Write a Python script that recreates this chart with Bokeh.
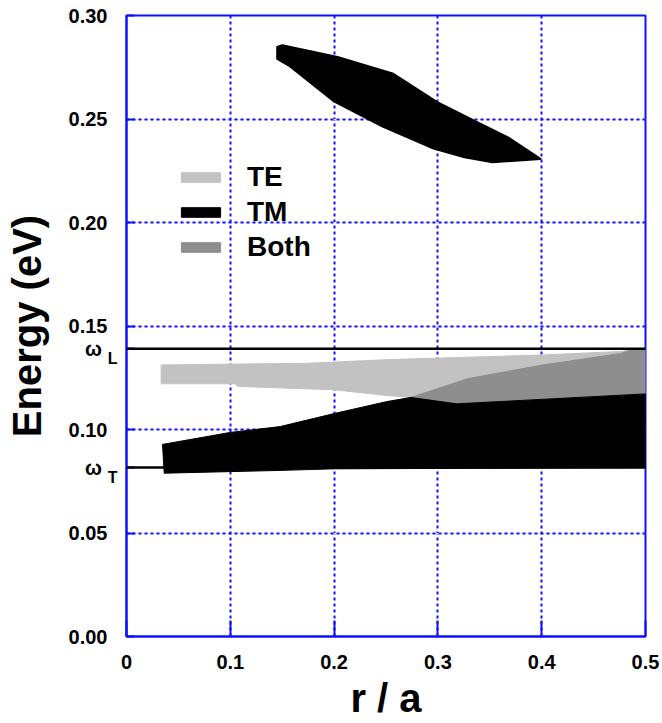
from bokeh.plotting import figure
from bokeh.models import FixedTicker, Legend, LegendItem, LinearAxis, Grid, Range1d
from bokeh.embed import file_html
from bokeh.resources import INLINE

# ---- data ----
omega_L = 0.1390
omega_T = 0.0816

te_r = [0.0334, 0.174, 0.254, 0.400, 0.476, 0.490, 0.476, 0.399, 0.329, 0.274, 0.251, 0.200, 0.107, 0.105, 0.0334]
te_e = [0.1312, 0.1320, 0.1338, 0.1360, 0.1377, 0.1390, 0.1367, 0.1310, 0.1246, 0.1155, 0.1164, 0.1192, 0.1208, 0.1221, 0.1221]

both_r = [0.274, 0.329, 0.399, 0.476, 0.490, 0.500, 0.500, 0.318]
both_e = [0.1155, 0.1246, 0.1310, 0.1367, 0.1390, 0.1390, 0.1172, 0.1124]

tm_low_r = [0.0347, 0.100, 0.148, 0.200, 0.251, 0.274, 0.318, 0.500, 0.500, 0.200, 0.145, 0.0363]
tm_low_e = [0.0928, 0.0986, 0.1014, 0.1077, 0.1135, 0.1155, 0.1124, 0.1172, 0.0816, 0.0810, 0.0802, 0.0789]

tm_high_r = [0.1452, 0.1501, 0.2033, 0.2563, 0.2994, 0.3359, 0.3690, 0.3988, 0.3526, 0.3256, 0.2958, 0.2463, 0.1999, 0.1567, 0.1452]
tm_high_e = [0.2848, 0.2856, 0.2800, 0.2720, 0.2582, 0.2490, 0.2407, 0.2307, 0.2291, 0.2315, 0.2357, 0.2465, 0.2585, 0.2757, 0.2790]

x_ticks = [0, 0.1, 0.2, 0.3, 0.4, 0.5]
x_tick_labels = ["0", "0.1", "0.2", "0.3", "0.4", "0.5"]
y_ticks = [0, 0.05, 0.10, 0.15, 0.20, 0.25, 0.30]
y_tick_labels = ["0.00", "0.05", "0.10", "0.15", "0.20", "0.25", "0.30"]
omega_ticks = [omega_L, omega_T]
omega_symbol = "ω"
omega_subscripts = ["L", "T"]

TE_COLOR = "#c2c2c2"
TM_COLOR = "#000000"
BOTH_COLOR = "#8e8e8e"
BLUE = "#1010ff"
FONT = "Liberation Sans"
NBSP = "\u00a0"

p = figure(width=660, height=716, frame_width=519, frame_height=621,
           min_border_left=126, min_border_right=15, min_border_top=15, min_border_bottom=80,
           x_range=Range1d(0, 0.5), y_range=Range1d(0, 0.30), y_axis_location=None,
           output_backend="svg", toolbar_location=None)
p.background_fill_color = "white"
p.border_fill_color = "white"
p.outline_line_color = BLUE
p.outline_line_width = 2

# bands
r_te = p.patch(te_r, te_e, fill_color=TE_COLOR, line_color=TE_COLOR, line_width=1)
r_both = p.patch(both_r, both_e, fill_color=BOTH_COLOR, line_color=BOTH_COLOR, line_width=1)
r_tm = p.patch(tm_low_r, tm_low_e, fill_color=TM_COLOR, line_color=TM_COLOR, line_width=1)
p.patch(tm_high_r, tm_high_e, fill_color=TM_COLOR, line_color=TM_COLOR, line_width=2, line_join="round")

# omega lines (drawn above the axis ticks)
for w in omega_ticks:
    p.line([0, 0.5], [w, w], line_color="black", line_width=2.5, level="overlay")

def style_axis(ax, size="20px"):
    ax.major_label_text_font = FONT
    ax.major_label_text_font_style = "bold"
    ax.major_label_text_font_size = size
    ax.major_label_text_color = "black"
    ax.axis_label_text_font = FONT
    ax.axis_label_text_font_style = "bold"
    ax.axis_label_text_font_size = "40px"
    ax.axis_label_text_color = "black"
    ax.minor_tick_line_color = None
    ax.major_tick_out = 0

# x axis
p.xaxis.ticker = FixedTicker(ticks=x_ticks)
p.xaxis.major_label_overrides = dict(zip(x_ticks, x_tick_labels))
style_axis(p.xaxis)
p.xaxis.axis_line_color = BLUE
p.xaxis.axis_line_width = 2
p.xaxis.major_tick_line_color = BLUE
p.xaxis.major_tick_line_width = 2
p.xaxis.major_tick_in = 16
p.xaxis.major_label_standoff = 18
p.xaxis.axis_label = "r / a"
p.xaxis.axis_label_standoff = 4

# inner left axis: frame line, inner ticks and the omega subscripts
sub_overrides = {t: "" for t in y_ticks}
for w, s in zip(omega_ticks, omega_subscripts):
    sub_overrides[w] = NBSP + "\n" + s
sub_axis = LinearAxis(ticker=FixedTicker(ticks=y_ticks + omega_ticks),
                      major_label_overrides=sub_overrides)
style_axis(sub_axis, "16px")
sub_axis.axis_line_color = BLUE
sub_axis.axis_line_width = 2
sub_axis.major_tick_line_color = BLUE
sub_axis.major_tick_line_width = 2
sub_axis.major_tick_in = 8
sub_axis.major_label_standoff = 9
p.add_layout(sub_axis, "left")

# outer left axis: numeric labels, omega symbols and the axis title
main_overrides = dict(zip(y_ticks, y_tick_labels))
for w in omega_ticks:
    main_overrides[w] = omega_symbol + NBSP
main_axis = LinearAxis(ticker=FixedTicker(ticks=y_ticks + omega_ticks),
                       major_label_overrides=main_overrides)
style_axis(main_axis)
main_axis.axis_line_color = None
main_axis.major_tick_line_color = None
main_axis.major_tick_in = 0
main_axis.major_label_standoff = -3
main_axis.axis_label = "Energy (eV)"
main_axis.axis_label_standoff = 17
p.add_layout(main_axis, "left")

# grid
p.xgrid.ticker = FixedTicker(ticks=[0.1, 0.2, 0.3, 0.4])
ygrid = Grid(dimension=1, ticker=FixedTicker(ticks=[0.05, 0.10, 0.15, 0.20, 0.25]))
p.add_layout(ygrid)
for g in (p.xgrid[0], ygrid):
    g.grid_line_color = BLUE
    g.grid_line_width = 2
    g.grid_line_dash = "3 3"

# legend
legend = Legend(items=[LegendItem(label="TE", renderers=[r_te]),
                       LegendItem(label="TM", renderers=[r_tm]),
                       LegendItem(label="Both", renderers=[r_both])],
                location=(50, 373), orientation="vertical",
                glyph_width=49, glyph_height=12, label_height=30, spacing=3,
                label_standoff=22, padding=0, margin=0,
                border_line_color=None, background_fill_alpha=0,
                label_text_font=FONT, label_text_font_style="bold",
                label_text_font_size="28px", label_text_color="black")
p.add_layout(legend)

open("out.html", "w").write(file_html(p, INLINE))
